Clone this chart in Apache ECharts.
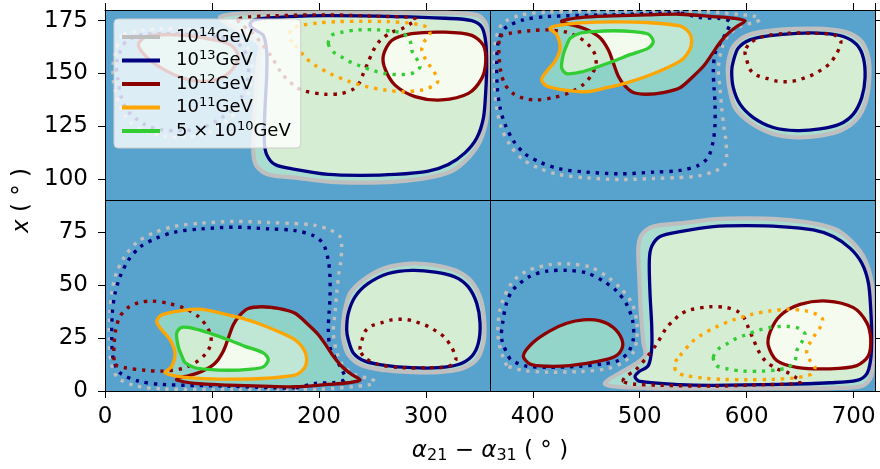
<!DOCTYPE html>
<html>
<head>
<meta charset="utf-8">
<script src="https://cdn.jsdelivr.net/npm/echarts@6/dist/echarts.min.js"></script>
<style>
html, body { margin: 0; padding: 0; background: #ffffff; }
#chart { width: 880px; height: 469px; }
</style>
</head>
<body>
<div id="chart"></div>
<script>
// ---- contour outlines, [alpha21 - alpha31 (deg), x (deg)] ----

// lower-right panel
const br14 = [[537.7,79.2],[512.7,77.7],[501.8,73.7],[498.7,67.5],[499.6,54.2],[500.9,38.6],[503.4,23.0],[505.0,16.7],[490.9,11.2],[472.2,5.8],[467.5,3.4],[478.4,2.0],[506.5,1.4],[560,1.2],[620,1.2],[680,1.4],[708,2.4],[716.5,7],[718,20],[718,38],[716.9,51.1],[710.7,62.0],[699.8,69.8],[684.2,76.1],[662.3,79.2],[631.2,81.1],[600.0,81.6],[568.8,81.1]];
const br13 = [[537.7,75.3],[519.0,73.0],[511.2,68.3],[509.0,62.0],[509.6,46.4],[511.2,30.8],[511.2,19.8],[508.0,12.0],[498.7,8.9],[495.6,6.6],[500.3,4.5],[537.7,3.0],[568.8,2.7],[631.2,3.1],[678.0,3.9],[702.9,5.0],[712.3,8.1],[716.0,15.1],[716.9,26.1],[716.0,38.6],[713.8,51.1],[707.6,60.5],[696.6,67.5],[681.0,73.0],[662.3,76.1],[631.2,77.7],[600.0,78.1],[568.8,77.7]];
const br12 = [[621.8,27.7],[631.2,35.5],[649.9,40.9],[674.9,42.5],[699.8,39.4],[712.3,32.3],[716.0,24.5],[713.8,16.7],[702.9,12.0],[678.0,10.5],[646.8,11.2],[628.1,14.4],[620.3,21.4]];
const br12s = [[391.2,16.7],[400.5,23.0],[416.1,28.4],[431.7,32.0],[447.3,33.6],[462.9,33.1],[475.3,30.0],[483.2,24.5],[483.2,19.8],[475.3,15.9],[456.6,13.6],[434.8,12.0],[413.0,11.7],[397.4,12.8]];
const br13d = [[378.7,15.2],[370.9,24.5],[371.9,32.3],[375.6,41.7],[381.8,48.0],[397.4,54.2],[413.0,56.6],[431.7,57.0],[450.4,55.8],[466.0,51.9],[478.4,47.2],[487.8,40.9],[493.4,33.1],[494.0,24.5],[489.3,18.3],[480.0,14.4],[466.0,12.8],[444.2,11.7],[413.0,11.2],[394.3,11.7],[383.4,13.6]];
const br14d = [[375.6,12.0],[367.8,24.5],[369.4,38.6],[380.3,51.1],[394.3,56.6],[416.1,59.7],[434.8,60.0],[453.5,58.6],[469.1,54.2],[481.6,48.8],[492.5,41.7],[497.2,33.1],[497.2,24.5],[494.0,18.3],[484.7,13.6],[469.1,10.5],[444.2,9.2],[413.0,8.9],[391.2,9.7],[380.3,11.2]];
const br12d = [[484.7,4.5],[486.2,6.6],[495.6,9.7],[506.5,15.9],[515.9,22.2],[525.2,30.0],[533.0,33.9],[537.7,36.2],[547.0,38.3],[565.7,39.8],[581.3,39.4],[592.2,37.4],[598.5,33.9],[601.5,30.0],[606.2,24.5],[610.9,19.1],[617.2,14.4],[628.1,10.5],[637.5,8.9],[645.2,6.6],[651.4,4.5],[643.6,3.4],[615.6,3.0],[568.8,2.3],[519.0,2.7],[494.0,3.3]];
const br11d = [[537.7,16.7],[548.6,23.0],[556.4,26.1],[570.4,30.0],[587.5,33.6],[604.7,36.2],[621.8,37.8],[638.9,38.6],[656.1,37.8],[665.4,36.2],[671.0,33.9],[668.6,30.0],[663.3,26.1],[658.6,22.2],[656.1,18.3],[659.2,14.4],[663.9,11.2],[660.8,8.1],[653.0,6.9],[643.6,6.1],[624.9,5.5],[600.0,5.3],[578.2,5.5],[559.5,6.1],[542.3,7.4],[534.6,8.9],[532.4,12.8]];
const br5d = [[568.8,15.9],[573.5,19.8],[581.3,22.2],[589.1,24.5],[596.9,26.1],[612.5,28.9],[621.8,30.0],[631.2,30.5],[638.9,30.5],[648.3,29.7],[654.6,26.9],[651.4,23.0],[646.8,19.1],[645.2,14.4],[638.9,11.2],[628.1,10.0],[615.6,9.4],[596.9,9.4],[581.3,10.5],[571.9,12.0]];

// upper-left panel
const tl14 = [[177.7,100.8],[152.7,102.3],[141.8,106.3],[138.7,112.5],[139.6,125.8],[140.9,141.4],[143.4,157.0],[145.0,163.3],[130.9,168.8],[112.2,174.2],[107.5,176.6],[118.4,178.0],[146.5,178.6],[200,178.8],[260,178.8],[320,178.6],[348,177.6],[356.5,173],[358,160],[358,142],[356.9,128.9],[350.7,118.0],[339.8,110.2],[324.2,103.9],[302.3,100.8],[271.2,98.9],[240.0,98.4],[208.8,98.9]];
const tl13 = [[177.7,104.7],[159.0,107.0],[151.2,111.7],[149.0,118.0],[149.6,133.6],[151.2,149.2],[151.2,160.2],[148.0,168.0],[138.7,171.1],[135.6,173.4],[140.3,175.5],[177.7,177.0],[208.8,177.3],[271.2,176.9],[318.0,176.1],[342.9,175.0],[352.3,171.9],[356.0,164.9],[356.9,153.9],[356.0,141.4],[353.8,128.9],[347.6,119.5],[336.6,112.5],[321.0,107.0],[302.3,103.9],[271.2,102.3],[240.0,101.9],[208.8,102.3]];
const tl12 = [[261.8,152.3],[271.2,144.5],[289.9,139.1],[314.9,137.5],[339.8,140.6],[352.3,147.7],[356.0,155.5],[353.8,163.3],[342.9,168.0],[318.0,169.5],[286.8,168.8],[268.1,165.6],[260.3,158.6]];
const tl12s = [[31.2,163.3],[40.5,157.0],[56.1,151.6],[71.7,148.0],[87.3,146.4],[102.9,146.9],[115.3,150.0],[123.2,155.5],[123.2,160.2],[115.3,164.1],[96.6,166.4],[74.8,168.0],[53.0,168.3],[37.4,167.2]];
const tl13d = [[18.7,164.8],[10.9,155.5],[11.9,147.7],[15.6,138.3],[21.8,132.0],[37.4,125.8],[53.0,123.4],[71.7,123.0],[90.4,124.2],[106.0,128.1],[118.4,132.8],[127.8,139.1],[133.4,146.9],[134.0,155.5],[129.3,161.7],[120.0,165.6],[106.0,167.2],[84.2,168.3],[53.0,168.8],[34.3,168.3],[23.4,166.4]];
const tl14d = [[15.6,168.0],[7.8,155.5],[9.4,141.4],[20.3,128.9],[34.3,123.4],[56.1,120.3],[74.8,120.0],[93.5,121.4],[109.1,125.8],[121.6,131.2],[132.5,138.3],[137.2,146.9],[137.2,155.5],[134.0,161.7],[124.7,166.4],[109.1,169.5],[84.2,170.8],[53.0,171.1],[31.2,170.3],[20.3,168.8]];
const tl12d = [[124.7,175.5],[126.2,173.4],[135.6,170.3],[146.5,164.1],[155.9,157.8],[165.2,150.0],[173.0,146.1],[177.7,143.8],[187.0,141.7],[205.7,140.2],[221.3,140.6],[232.2,142.6],[238.5,146.1],[241.5,150.0],[246.2,155.5],[250.9,160.9],[257.2,165.6],[268.1,169.5],[277.5,171.1],[285.2,173.4],[291.4,175.5],[283.6,176.6],[255.6,177.0],[208.8,177.7],[159.0,177.3],[134.0,176.7]];
const tl11d = [[177.7,163.3],[188.6,157.0],[196.4,153.9],[210.4,150.0],[227.5,146.4],[244.7,143.8],[261.8,142.2],[278.9,141.4],[296.1,142.2],[305.4,143.8],[311.0,146.1],[308.6,150.0],[303.3,153.9],[298.6,157.8],[296.1,161.7],[299.2,165.6],[303.9,168.8],[300.8,171.9],[293.0,173.1],[283.6,173.9],[264.9,174.5],[240.0,174.7],[218.2,174.5],[199.5,173.9],[182.3,172.6],[174.6,171.1],[172.4,167.2]];
const tl5d = [[208.8,164.1],[213.5,160.2],[221.3,157.8],[229.1,155.5],[236.9,153.9],[252.5,151.1],[261.8,150.0],[271.2,149.5],[278.9,149.5],[288.3,150.3],[294.6,153.1],[291.4,157.0],[286.8,160.9],[285.2,165.6],[278.9,168.8],[268.1,170.0],[255.6,170.6],[236.9,170.6],[221.3,169.5],[211.9,168.0]];

// upper-right panel
const tr14 = [[582.9,155.8],[587.5,162.8],[600.0,167.9],[621.8,170.2],[646.8,171.1],[671.7,171.1],[693.5,169.5],[707.6,165.1],[713.8,157.4],[714.7,148.0],[711.6,137.0],[702.9,128.4],[688.9,123.3],[668.6,120.6],[646.8,119.8],[623.4,121.7],[603.1,126.9],[589.1,133.9],[583.8,143.3],[582.3,151.1]];
const tr13 = [[587.5,155.8],[592.2,162.0],[603.1,165.9],[621.8,167.9],[646.8,169.0],[671.7,169.0],[690.4,167.5],[702.9,163.6],[709.1,157.4],[710.7,148.0],[707.6,138.6],[699.7,130.8],[687.3,126.1],[668.6,123.8],[646.8,123.0],[624.9,124.5],[606.2,129.2],[593.8,135.5],[587.5,143.3],[586.0,151.1]];
const tr12 = [[427.0,174.8],[444.2,176.4],[475.3,177.2],[506.5,177.7],[537.7,178.0],[568.8,176.9],[587.5,176.1],[598.5,174.8],[590.7,172.2],[581.3,168.3],[573.5,163.6],[567.3,158.9],[559.5,153.4],[550.1,148.7],[537.7,143.3],[522.1,141.0],[506.5,140.2],[494.0,141.0],[486.2,144.1],[480.0,148.7],[475.3,155.0],[470.6,161.2],[462.9,166.9],[450.4,170.8],[437.9,172.8],[428.5,173.9]];
const tr11 = [[416.1,171.4],[422.4,168.3],[425.5,162.0],[420.8,155.8],[413.0,151.1],[408.3,147.2],[413.0,144.1],[431.7,142.0],[450.4,141.4],[469.1,143.3],[487.8,145.6],[506.5,148.7],[525.2,152.6],[537.7,155.8],[543.9,158.9],[548.0,162.8],[548.0,167.5],[543.9,170.6],[537.7,172.5],[506.5,174.1],[475.3,174.4],[444.2,173.9],[425.5,172.8]];
const tr5 = [[435.0,166.7],[444.2,169.0],[456.6,169.8],[475.3,170.2],[494.0,169.8],[508.0,168.6],[512.7,165.1],[508.0,162.0],[490.9,158.9],[475.3,155.8],[459.8,153.0],[444.2,150.6],[431.7,149.9],[427.0,152.7],[428.5,158.9],[432.2,163.9]];
const tr12d = [[369.4,167.5],[378.7,169.0],[397.4,170.2],[413.0,170.6],[431.7,169.5],[444.2,166.7],[453.5,162.8],[458.2,158.9],[459.1,154.2],[455.1,149.5],[447.3,144.8],[434.8,141.0],[419.2,138.6],[403.7,137.5],[391.2,138.3],[381.8,140.5],[374.0,144.8],[370.0,151.1],[368.4,158.9],[368.4,164.4]];
const tr12e = [[598.5,160.4],[600.0,156.6],[603.1,151.9],[609.4,149.2],[618.7,147.7],[628.1,146.4],[637.5,146.1],[646.8,146.7],[654.6,148.0],[662.3,149.5],[670.2,151.9],[677.3,154.5],[682.6,158.1],[686.6,162.0],[688.0,165.5],[681.7,168.3],[662.3,169.0],[637.5,169.0],[615.6,167.5],[603.1,164.4]];
const tr13d = [[537.7,178.5],[475.3,177.7],[413.0,176.9],[391.2,175.3],[374.0,171.4],[367.8,165.1],[366.3,155.8],[366.8,143.3],[369.4,133.9],[374.0,126.1],[381.8,118.3],[392.7,112.0],[406.8,108.1],[425.5,104.9],[450.4,103.4],[481.6,102.6],[512.7,103.4],[537.7,104.2],[554.8,106.6],[564.1,110.5],[568.8,118.3],[570.4,126.1],[570.4,135.5],[569.5,143.3],[568.8,151.1],[570.4,159.5],[575.1,164.2],[581.3,169.7],[584.4,174.4],[575.1,176.0],[556.4,176.4]];
const tr14d = [[537.7,100.9],[554.8,101.6],[570.4,103.9],[579.7,107.0],[581.3,111.7],[580.3,119.5],[578.8,124.2],[576.7,133.6],[575.1,143.0],[573.5,152.3],[576.7,161.7],[582.8,168.0],[595.3,172.6],[607.8,174.2],[612.5,175.5],[607.8,177.0],[560,179.2],[480,179.2],[413,179.0],[388,177.5],[371.5,173.5],[365.5,166],[364,155.8],[364.5,143],[366.5,133],[370.5,124.5],[379,116],[390.5,109.5],[405.5,105.3],[425,102.2],[450.4,100.7],[481.6,99.9],[512.7,100.4]];
// overlaps of the filled regions in this panel
const tr11x12 = [[437.9,172.8],[450.4,170.8],[462.9,166.9],[470.6,161.2],[475.3,155.0],[480.0,148.7],[484.5,145.2],[487.8,145.6],[506.5,148.7],[525.2,152.6],[537.7,155.8],[543.9,158.9],[548.0,162.8],[548.0,167.5],[543.9,170.6],[537.7,172.5],[506.5,174.1],[475.3,174.4],[444.2,173.9]];
const tr5x12 = [[456.0,169.6],[462.9,166.9],[470.6,161.2],[475.0,155.8],[490.9,158.9],[508.0,162.0],[512.7,165.1],[508.0,168.6],[494.0,169.8],[475.3,170.2]];

// lower-left panel
const bl14 = [[222.9,24.2],[227.5,17.2],[240.0,12.1],[261.8,9.8],[286.8,8.9],[311.7,8.9],[333.5,10.5],[347.6,14.9],[353.8,22.6],[354.7,32.0],[351.6,43.0],[342.9,51.6],[328.9,56.7],[308.6,59.4],[286.8,60.2],[263.4,58.3],[243.1,53.1],[229.1,46.1],[223.8,36.7],[222.3,28.9]];
const bl13 = [[227.5,24.2],[232.2,18.0],[243.1,14.1],[261.8,12.1],[286.8,11.0],[311.7,11.0],[330.4,12.5],[342.9,16.4],[349.1,22.6],[350.7,32.0],[347.6,41.4],[339.7,49.2],[327.3,53.9],[308.6,56.2],[286.8,57.0],[264.9,55.5],[246.2,50.8],[233.8,44.5],[227.5,36.7],[226.0,28.9]];
const bl12 = [[67.0,5.2],[84.2,3.6],[115.3,2.8],[146.5,2.3],[177.7,2.0],[208.8,3.1],[227.5,3.9],[238.5,5.2],[230.7,7.8],[221.3,11.7],[213.5,16.4],[207.3,21.1],[199.5,26.6],[190.1,31.3],[177.7,36.7],[162.1,39.0],[146.5,39.8],[134.0,39.0],[126.2,35.9],[120.0,31.3],[115.3,25.0],[110.6,18.8],[102.9,13.1],[90.4,9.2],[77.9,7.2],[68.5,6.1]];
const bl11 = [[56.1,8.6],[62.4,11.7],[65.5,18.0],[60.8,24.2],[53.0,28.9],[48.3,32.8],[53.0,35.9],[71.7,38.0],[90.4,38.6],[109.1,36.7],[127.8,34.4],[146.5,31.3],[165.2,27.4],[177.7,24.2],[183.9,21.1],[188.0,17.2],[188.0,12.5],[183.9,9.4],[177.7,7.5],[146.5,5.9],[115.3,5.6],[84.2,6.1],[65.5,7.2]];
const bl5 = [[75.0,13.3],[84.2,11.0],[96.6,10.2],[115.3,9.8],[134.0,10.2],[148.0,11.4],[152.7,14.9],[148.0,18.0],[130.9,21.1],[115.3,24.2],[99.8,27.0],[84.2,29.4],[71.7,30.1],[67.0,27.3],[68.5,21.1],[72.2,16.1]];
const bl12d = [[9.4,12.5],[18.7,11.0],[37.4,9.8],[53.0,9.4],[71.7,10.5],[84.2,13.3],[93.5,17.2],[98.2,21.1],[99.1,25.8],[95.1,30.5],[87.3,35.2],[74.8,39.0],[59.2,41.4],[43.7,42.5],[31.2,41.7],[21.8,39.5],[14.0,35.2],[10.0,28.9],[8.4,21.1],[8.4,15.6]];
const bl12e = [[238.5,19.6],[240.0,23.4],[243.1,28.1],[249.4,30.8],[258.7,32.3],[268.1,33.6],[277.5,33.9],[286.8,33.3],[294.6,32.0],[302.3,30.5],[310.2,28.1],[317.3,25.5],[322.6,21.9],[326.6,18.0],[328.0,14.5],[321.7,11.7],[302.3,11.0],[277.5,11.0],[255.6,12.5],[243.1,15.6]];
const bl13d = [[177.7,1.5],[115.3,2.3],[53.0,3.1],[31.2,4.7],[14.0,8.6],[7.8,14.9],[6.3,24.2],[6.8,36.7],[9.4,46.1],[14.0,53.9],[21.8,61.7],[32.7,68.0],[46.8,71.9],[65.5,75.1],[90.4,76.6],[121.6,77.4],[152.7,76.6],[177.7,75.8],[194.8,73.4],[204.1,69.5],[208.8,61.7],[210.4,53.9],[210.4,44.5],[209.5,36.7],[208.8,28.9],[210.4,20.5],[215.1,15.8],[221.3,10.3],[224.4,5.6],[215.1,4.0],[196.4,3.6]];
const bl14d = [[177.7,79.1],[194.8,78.4],[210.4,76.1],[219.7,73.0],[221.3,68.3],[220.3,60.5],[218.8,55.8],[216.7,46.4],[215.1,37.0],[213.5,27.7],[216.7,18.3],[222.8,12.0],[235.3,7.4],[247.8,5.8],[252.5,4.5],[247.8,3.0],[200,0.8],[120,0.8],[53,1.0],[28,2.5],[11.5,6.5],[5.5,14],[4,24.2],[4.5,37],[6.5,47],[10.5,55.5],[19,64],[30.5,70.5],[45.5,74.7],[65,77.8],[90.4,79.3],[121.6,80.1],[152.7,79.6]];
const bl11x12 = [[77.9,7.2],[90.4,9.2],[102.9,13.1],[110.6,18.8],[115.3,25.0],[120.0,31.3],[124.5,34.8],[127.8,34.4],[146.5,31.3],[165.2,27.4],[177.7,24.2],[183.9,21.1],[188.0,17.2],[188.0,12.5],[183.9,9.4],[177.7,7.5],[146.5,5.9],[115.3,5.6],[84.2,6.1]];
const bl5x12 = [[96.0,10.4],[102.9,13.1],[110.6,18.8],[115.0,24.2],[130.9,21.1],[148.0,18.0],[152.7,14.9],[148.0,11.4],[134.0,10.2],[115.3,9.8]];

// legend entries: series names, drawn labels and line colours
const energyNames = ['E14', 'E13', 'E12', 'E11', 'E5x10'];
const energyLabels = [
  '{f|10}{p|14}{n|GeV}',
  '{f|10}{p|13}{n|GeV}',
  '{f|10}{p|12}{n|GeV}',
  '{f|10}{p|11}{n|GeV}',
  '{f|5 \u00d7 10}{p|10}{n|GeV}'
];
const energyColors = ['#bfbfbf', '#000080', '#8b0000', '#ffa500', '#32cd32'];

// solid / dotted outlines for each energy scale
const solidCurves = [
  [br14, tl14, tr14, bl14],
  [br13, tl13, tr13, bl13],
  [br12, tl12, br12s, tl12s, tr12, bl12],
  [tr11, bl11],
  [tr5, bl5]
];
const dottedCurves = [
  [br14d, tl14d, tr14d, bl14d],
  [br13d, tl13d, tr13d, bl13d],
  [br12d, tl12d, tr12d, bl12d, tr12e, bl12e],
  [br11d, tl11d],
  [br5d, tl5d]
];

const FONT = 'DejaVu Sans';

function curveShapes(api, curves, style) {
  return curves.map(c => ({
    type: 'polygon',
    shape: { points: c.map(p => api.coord(p)), smooth: 0.3 },
    style: style
  }));
}

function pathSeries(name, curves, style) {
  return {
    type: 'custom',
    name: name,
    coordinateSystem: 'cartesian2d',
    clip: true,
    silent: true,
    animation: false,
    data: [].concat(...curves),
    encode: { x: 0, y: 1 },
    renderItem: (params, api) =>
      params.dataIndex === 0 ? { type: 'group', children: curveShapes(api, curves, style) } : null
  };
}

const series = [];

// filled regions (colour bands of the background field)
series.push(pathSeries('band14', [br14, tl14, tr14, bl14], { fill: '#a9ddd0', stroke: 'none' }));
series.push(pathSeries('band13', [br13, tl13, tr13, bl13], { fill: '#d5eed3', stroke: 'none' }));
series.push(pathSeries('band12', [br12, tl12], { fill: '#f5fbef', stroke: 'none' }));
series.push(pathSeries('band12s', [br12s, tl12s], { fill: '#94d5ca', stroke: 'none' }));
series.push(pathSeries('band11', [tr11, bl11, tr12, bl12], { fill: '#8fd2c7', stroke: 'none' }));
series.push(pathSeries('band11x12', [tr11x12, bl11x12], { fill: '#c0e6d5', stroke: 'none' }));
series.push(pathSeries('band5', [tr5, bl5], { fill: '#d0ecd3', stroke: 'none' }));
series.push(pathSeries('band5x12', [tr5x12, bl5x12], { fill: '#f3faee', stroke: 'none' }));

// contour lines
for (let i = 0; i < energyNames.length; i++) {
  const w = i === 0 ? 4.2 : 3.3;
  series.push(pathSeries(energyNames[i], solidCurves[i],
    { fill: 'none', stroke: energyColors[i], lineWidth: w, lineJoin: 'round' }));
  series.push(pathSeries(energyNames[i], dottedCurves[i],
    { fill: 'none', stroke: energyColors[i], lineWidth: 3.4, lineDash: [3.4, 5.8], lineCap: 'butt', lineJoin: 'round' }));
}

// panel dividers
series[series.length - 1].markLine = {
  silent: true,
  symbol: ['none', 'none'],
  animation: false,
  label: { show: false },
  lineStyle: { color: '#000', width: 1, type: 'solid' },
  data: [{ xAxis: 360 }, { yAxis: 90 }]
};

const axisCommon = {
  type: 'value',
  splitLine: { show: false },
  axisLine: { show: true, onZero: false, lineStyle: { color: '#000', width: 1 } },
  axisTick: { show: true, length: 7, lineStyle: { color: '#000', width: 1 } }
};

const nameRich = {
  n: { fontFamily: FONT, fontSize: 23, lineHeight: 26, color: '#000' },
  i: { fontFamily: FONT, fontSize: 23, lineHeight: 26, fontStyle: 'italic', color: '#000' },
  s: { fontFamily: FONT, fontSize: 16, lineHeight: 16, verticalAlign: 'bottom', color: '#000' }
};

const option = {
  backgroundColor: '#ffffff',
  animation: false,
  grid: { left: 105, right: 5, top: 10, bottom: 75, show: true, backgroundColor: '#57a3cd', borderWidth: 0 },
  xAxis: [
    Object.assign({}, axisCommon, {
      position: 'bottom', min: 0, max: 720, interval: 100,
      axisLabel: { fontFamily: FONT, fontSize: 23, color: '#000', margin: 15 },
      name: '{i|\u03b1}{s|21}{n| \u2212 }{i|\u03b1}{s|31}{n| ( \u00b0 )}',
      nameLocation: 'middle', nameGap: 47,
      nameTextStyle: { fontFamily: FONT, fontSize: 23, color: '#000', rich: nameRich }
    }),
    Object.assign({}, axisCommon, {
      position: 'top', min: 0, max: 720, interval: 100,
      axisLabel: { show: false }
    })
  ],
  yAxis: [
    Object.assign({}, axisCommon, {
      position: 'left', min: 0, max: 180, interval: 25,
      axisLabel: { fontFamily: FONT, fontSize: 23, color: '#000', margin: 17 },
      name: '{i|x}{n| ( \u00b0 )}',
      nameLocation: 'middle', nameRotate: 90, nameGap: 70,
      nameTextStyle: { fontFamily: FONT, fontSize: 23, color: '#000', rich: nameRich }
    }),
    Object.assign({}, axisCommon, {
      position: 'right', min: 0, max: 180, interval: 25,
      axisLabel: { show: false }
    })
  ],
  legend: {
    orient: 'vertical',
    left: 114,
    top: 19,
    padding: [7, 10, 8, 8],
    itemGap: 3.5,
    itemWidth: 38,
    itemHeight: 4,
    icon: 'rect',
    selectedMode: false,
    backgroundColor: 'rgba(255,255,255,0.8)',
    borderColor: '#cccccc',
    borderWidth: 1,
    borderRadius: 4,
    formatter: name => energyLabels[energyNames.indexOf(name)],
    textStyle: {
      fontFamily: FONT, fontSize: 18, color: '#000',
      rich: {
        f: { fontFamily: FONT, fontSize: 18, lineHeight: 22, color: '#000', padding: [0, 0, 0, 11] },
        n: { fontFamily: FONT, fontSize: 18, lineHeight: 22, color: '#000' },
        p: { fontFamily: FONT, fontSize: 13, lineHeight: 11, verticalAlign: 'top', color: '#000' }
      }
    },
    data: energyNames.map((n, i) => ({ name: n, icon: 'rect', itemStyle: { color: energyColors[i] } }))
  },
  series: series
};

const chart = echarts.init(document.getElementById('chart'), null, { renderer: 'canvas' });
chart.setOption(option);
</script>
</body>
</html>
